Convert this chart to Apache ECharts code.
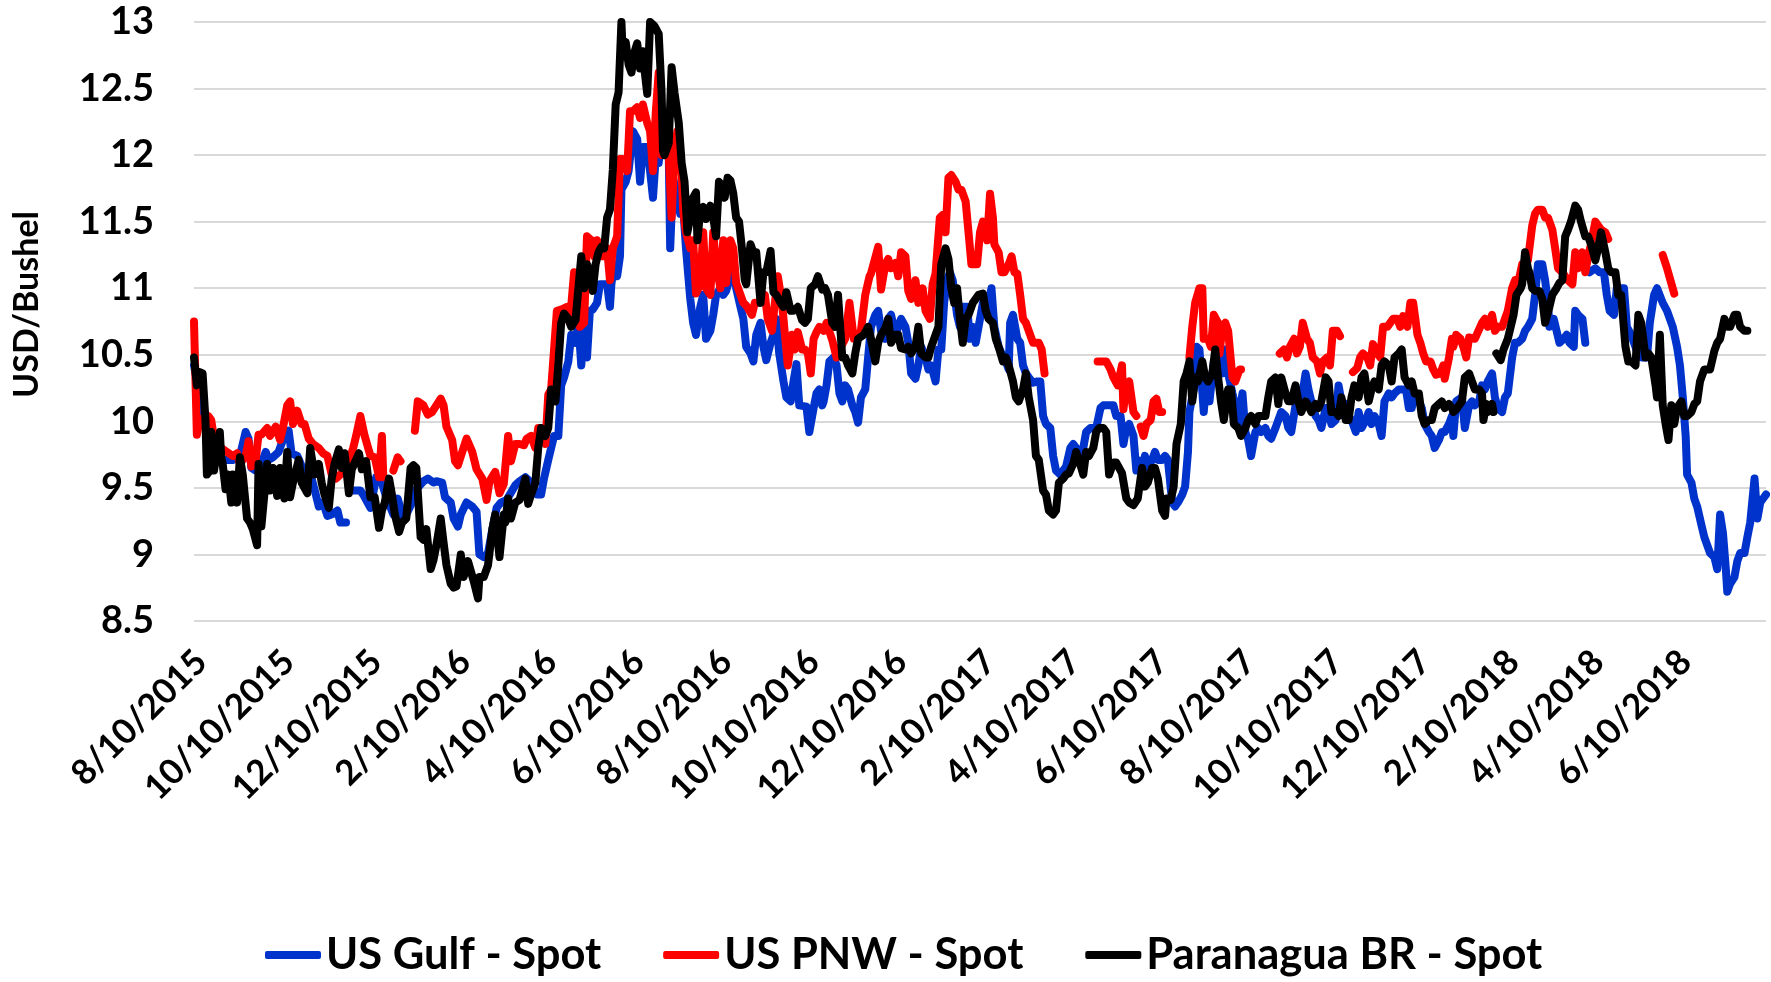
<!DOCTYPE html>
<html>
<head>
<meta charset="utf-8">
<script src="https://cdn.jsdelivr.net/npm/echarts@6.0.0/dist/echarts.min.js"></script>
<style>
  html, body { margin: 0; padding: 0; background: #fff; }
  #chart { width: 1771px; height: 982px; }
</style>
</head>
<body>
<div id="chart"></div>
<script>
// Axis range: every calendar day from 8/10/2015 to 8/10/2018
const startDay = Date.UTC(2015, 7, 10);
const endDay = Date.UTC(2018, 7, 10);

// Tick labels shown on the x axis
const tickLabels = ['8/10/2015', '10/10/2015', '12/10/2015', '2/10/2016', '4/10/2016', '6/10/2016',
  '8/10/2016', '10/10/2016', '12/10/2016', '2/10/2017', '4/10/2017', '6/10/2017',
  '8/10/2017', '10/10/2017', '12/10/2017', '2/10/2018', '4/10/2018', '6/10/2018'];

const seriesNames = ['US Gulf - Spot', 'US PNW - Spot', 'Paranagua BR - Spot'];

// Values as [day offset from 8/10/2015, USD/bushel]; '-' marks a gap in the series
const usGulf = [
[0,10.42],[8,9.98],[11,9.83],[16,9.71],[20,9.71],[27,9.71],[32,9.74],[36,9.92],[38,9.87],[40,9.65],[43,9.63],[46,9.65],[50,9.77],[52,9.71],[55,9.73],[59,9.77],[62,9.86],[66,9.93],[68,9.76],[72,9.74],[76,9.64],[81,9.61],[84,9.49],[87,9.36],[90,9.39],[93,9.29],[96,9.30],[100,9.33],[102,9.24],[106,9.24],[108,'-'],
[111,9.48],[116,9.48],[118,9.45],[123,9.35],[127,9.58],[131,9.54],[134,9.43],[139,9.30],[142,9.42],[146,9.27],[148,9.30],[152,9.39],[155,9.49],[160,9.55],[163,9.57],[167,9.54],[169,9.55],[173,9.54],[175,9.43],[179,9.39],[181,9.27],[184,9.21],[186,9.30],[190,9.39],[194,9.36],[197,9.32],[199,9.00],[202,8.98],[205,9.01],[208,9.19],[211,9.35],[214,9.39],[218,9.41],
[224,9.52],[227,9.55],[231,9.58],[234,9.55],[239,9.45],[242,9.45],[244,9.57],[247,9.71],[251,9.89],[254,9.89],[256,10.27],[258,10.33],[261,10.45],[263,10.65],[266,10.59],[268,10.74],[270,10.42],[272,10.68],[274,10.48],[276,10.83],[278,10.84],[281,10.89],[283,11.03],[288,11.03],[290,10.86],[291,11.03],[293,11.18],[295,11.09],[297,11.24],[298,11.74],[301,11.80],[303,11.88],[306,12.18],[309,12.12],[311,11.80],[313,12.06],[316,12.06],[318,11.88],[320,11.68],[322,12.00],[324,11.94],[326,12.21],[328,12.30],[331,12.00],[332,11.30],[334,11.83],[337,11.68],[339,11.56],[341,11.62],[343,11.30],[346,10.92],[348,10.74],[350,10.65],[353,10.86],[355,10.95],[357,10.62],[360,10.68],[362,10.80],[364,10.95],[367,11.00],[369,10.95],[371,10.98],[374,11.09],[376,11.18],[378,11.00],[381,10.86],[383,10.77],[385,10.56],[388,10.51],[390,10.45],[392,10.65],[395,10.74],[397,10.56],[399,10.46],[402,10.59],[404,10.65],[406,10.77],[408,10.51],[411,10.30],[413,10.18],[416,10.15],[418,10.30],[420,10.43],[422,10.12],[427,10.11],[429,9.92],[432,10.10],[434,10.21],[436,10.24],[438,10.12],
[439,10.15],[441,10.27],[443,10.45],[446,10.48],[448,10.42],[450,10.21],[452,10.15],[454,10.27],[456,10.24],[459,10.12],[461,10.07],[463,9.99],[465,10.18],[468,10.24],[470,10.48],[472,10.71],[475,10.80],[477,10.83],[479,10.68],[482,10.62],[484,10.77],[486,10.80],[489,10.65],[491,10.71],[493,10.77],[496,10.71],[498,10.59],[500,10.36],[503,10.32],[505,10.42],[507,10.56],[510,10.48],[512,10.39],[514,10.42],[517,10.30],[519,10.54],[521,10.54],[523,10.89],[525,11.06],[527,11.12],[529,11.06],[532,10.80],[534,10.71],[536,10.86],[539,10.86],[541,10.62],[543,10.71],[545,10.59],[548,10.77],[550,10.89],[553,10.89],[555,10.95],[556,11.00],[558,10.71],[561,10.56],[563,10.51],[565,10.48],[568,10.39],[569,10.74],[571,10.80],[574,10.62],[576,10.59],[578,10.42],[580,10.36],[582,10.33],[585,10.29],[588,10.30],[590,10.30],[592,10.04],[594,9.98],[597,9.95],[599,9.74],[601,9.63],[604,9.60],[606,9.63],[608,9.66],[611,9.80],[613,9.83],[615,9.80],[618,9.77],[620,9.80],[622,9.92],[625,9.95],[629,9.95],[632,10.10],[634,10.12],[641,10.12],[643,10.04],[646,10.04],[648,9.83],[650,9.95],[652,9.98],[655,9.89],[657,9.63],
[658,9.71],[661,9.65],[663,9.74],[665,9.65],[668,9.71],[670,9.77],[672,9.71],[675,9.71],[677,9.74],[679,9.71],[682,9.39],[684,9.36],[686,9.39],[689,9.45],[691,9.51],[693,9.77],[694,10.07],[697,10.24],[699,10.56],[701,10.54],[704,10.07],[706,10.33],[708,10.15],[711,10.45],[713,10.45],[715,10.48],[717,10.36],[719,10.54],[721,10.36],[724,10.21],[726,10.12],[728,9.98],[731,10.21],[733,9.92],[735,9.86],[737,9.74],[740,9.92],[742,9.95],[744,9.92],[747,9.95],[749,9.89],[751,9.87],[754,9.95],[756,10.01],[758,10.07],[761,10.04],[763,9.95],[765,9.92],[768,10.12],[770,10.15],[772,10.15],[775,10.36],[777,10.24],[779,10.15],[782,10.04],[784,10.01],[786,9.95],[789,10.10],[791,10.07],[793,9.98],[796,10.01],[798,10.27],[800,10.15],[803,10.13],[805,10.04],[807,10.01],[810,9.92],[812,10.07],[814,9.95],[817,10.01],[819,10.07],[821,9.98],[823,10.04],[826,9.98],[828,9.89],[830,10.15],[833,10.21],[835,10.18],[837,10.21],[840,10.24],[845,10.24],[847,10.10],[849,10.10],[851,10.21],[854,10.15],[856,10.10],[858,9.98],[861,9.92],[863,9.89],[865,9.80],[868,9.86],[870,9.92],[872,9.92],[875,9.98],[877,10.04],
[878,9.89],[880,10.15],[884,10.18],[886,9.95],[889,10.12],[891,10.15],[893,10.12],[896,10.15],[898,10.27],[900,10.24],[902,10.30],[905,10.36],[907,10.18],[909,10.10],[912,10.07],[914,10.18],[916,10.21],[919,10.48],[921,10.59],[923,10.59],[926,10.62],[928,10.68],[930,10.71],[933,10.77],[935,10.95],[937,11.18],[940,11.18],[942,11.06],[944,10.89],[945,10.71],[948,10.77],[950,10.68],[952,10.59],[955,10.62],[957,10.65],[959,10.59],[962,10.56],[963,10.83],[965,10.80],[968,10.77],[970,10.59],[971,'-'],
[973,11.12],[977,11.15],[980,11.12],[983,11.12],[985,10.95],[987,10.83],[990,10.80],[992,11.00],[997,11.00],[999,10.71],[1002,10.65],[1004,10.59],[1006,10.53],[1009,10.48],[1013,10.48],[1015,10.74],[1018,10.95],[1020,11.00],[1024,10.89],[1027,10.83],[1029,10.77],[1031,10.71],[1034,10.56],[1036,10.42],[1038,10.18],[1040,9.89],[1041,9.60],[1044,9.54],[1046,9.42],[1048,9.36],[1051,9.22],[1053,9.13],[1055,9.07],[1057,9.01],[1060,8.98],[1062,8.89],[1064,9.30],[1066,9.16],[1068,8.89],[1069,8.72],[1071,8.78],[1074,8.83],[1076,8.95],[1078,9.01],[1081,9.01],[1083,9.13],[1085,9.24],[1088,9.57],[1090,9.27],[1092,9.39],[1094,9.42],[1096,9.45]
];

const usPNW = [
[0,10.75],[2,9.90],[4,10.01],[10,10.04],[12,10.01],[15,9.80],[19,9.80],[23,9.77],[27,9.74],[30,9.76],[32,9.68],[36,9.74],[38,9.85],[40,9.66],[43,9.71],[45,9.90],[47,9.90],[51,9.95],[53,9.89],[57,9.96],[60,9.86],[62,9.95],[65,10.12],[67,10.15],[69,9.98],[72,10.08],[75,9.98],[77,9.98],[80,9.87],[83,9.83],[87,9.80],[90,9.76],[93,9.74],[96,9.60],[99,9.57],[103,9.61],[106,9.64],[111,9.80],[113,9.89],[116,10.04],[119,9.89],[123,9.74],[126,9.73],[129,9.58],[131,9.89],[132,9.58],[135,'-'],
[139,9.63],[142,9.73],[144,9.70],[149,'-'],
[154,9.93],[156,10.15],[160,10.12],[163,10.05],[166,10.07],[169,10.12],[172,10.17],[174,10.12],[176,9.96],[180,9.86],[182,9.70],[184,9.67],[187,9.77],[190,9.87],[194,9.77],[197,9.64],[201,9.57],[204,9.41],[206,9.55],[210,9.62],[213,9.46],[216,9.53],[217,9.54],[219,9.89],
[221,9.70],[224,9.83],[227,9.83],[230,9.82],[232,9.87],[235,9.89],[238,9.80],[240,9.95],[242,9.95],[245,9.83],[247,10.20],[249,10.24],[253,10.83],[256,10.84],[260,10.86],[262,10.74],[265,11.12],[267,10.95],[269,10.71],[272,10.74],[274,11.39],[277,11.36],[279,11.24],[281,11.36],[283,11.33],[285,11.24],[288,11.30],[290,11.06],[292,11.30],[295,11.39],[297,11.97],[299,11.97],[302,11.88],[304,12.33],[306,12.33],[309,12.36],[311,12.28],[313,12.38],[316,12.24],[318,12.18],[320,11.88],[322,12.33],[324,12.62],[326,12.00],[328,12.18],[331,12.00],[333,11.53],[335,12.00],[337,12.18],[340,11.88],[341,11.59],[343,11.42],[346,11.30],[348,11.36],[350,10.96],[353,11.03],[355,11.42],[357,11.00],[360,10.95],[362,11.42],[364,11.18],[367,11.00],[369,11.36],[371,11.04],[374,11.36],[376,11.30],[378,11.04],[381,10.95],[383,10.89],[385,10.87],[389,10.80],[391,10.89],[393,10.89],[396,10.92],[398,10.95],[400,10.77],[403,10.68],[405,10.89],[407,11.09],[410,10.89],[412,10.65],[414,10.42],[417,10.65],[419,10.54],[421,10.67],[424,10.54],[426,10.54],[428,10.51],[430,10.36],[432,10.62],[434,10.67],[436,10.71],
[439,10.68],[441,10.74],[445,10.61],[448,10.48],[451,10.56],[454,10.62],[457,10.89],[460,10.62],[462,10.62],[465,10.68],[468,10.95],[471,11.09],[472,11.11],[477,11.31],[479,10.99],[482,11.18],[484,11.22],[486,11.15],[489,11.19],[491,11.09],[493,11.27],[496,11.24],[498,10.98],[500,10.92],[503,11.06],[505,10.89],[508,11.00],[510,10.83],[513,10.77],[515,11.03],[517,11.11],[520,11.53],[522,11.55],[524,11.42],[526,11.83],[528,11.85],[531,11.80],[533,11.74],[535,11.74],[538,11.65],[540,11.42],[542,11.18],[546,11.18],[548,11.42],[550,11.50],[553,11.36],[555,11.71],[557,11.53],[558,11.33],[561,11.27],[563,11.12],[565,11.12],[568,11.18],[570,11.24],[572,11.12],[574,11.11],[576,10.95],[578,10.77],[580,10.74],[583,10.65],[585,10.59],[589,10.59],[591,10.54],[593,10.36],[594,'-'],
[630,10.45],[633,10.45],[636,10.45],[639,10.39],[641,10.33],[644,10.27],[647,10.42],[648,10.09],[650,10.27],[652,10.30],[655,10.07],[657,10.04],[658,'-'],
[660,9.96],[662,9.89],[664,9.98],[667,10.01],[669,10.15],[671,10.17],[673,10.07],[675,10.07],[676,'-'],
[694,10.48],[696,10.71],[698,10.89],[701,11.00],[703,11.00],[704,10.62],[707,10.62],[709,10.56],[711,10.80],[714,10.74],[715,10.51],[717,10.71],[719,10.74],[721,10.68],[724,10.33],[726,10.30],[729,10.39],[730,10.39],[731,'-'],
[757,10.51],[760,10.54],[762,10.48],[764,10.56],[767,10.62],[769,10.51],[771,10.56],[773,10.74],[776,10.62],[778,10.59],[780,10.48],[783,10.45],[785,10.36],[787,10.45],[790,10.48],[792,10.42],[794,10.68],[797,10.68],[799,10.64],[800,'-'],
[808,10.37],[811,10.40],[813,10.48],[815,10.51],[818,10.48],[820,10.42],[822,10.58],[825,10.51],[827,10.48],[829,10.71],[832,10.71],[834,10.74],[836,10.77],[839,10.77],[841,10.71],[843,10.79],[846,10.71],[848,10.89],[850,10.89],[853,10.65],[855,10.59],[857,10.51],[859,10.45],[862,10.45],[864,10.39],[866,10.35],[869,10.36],[871,10.42],[872,10.32],[875,10.48],[877,10.62],[878,10.56],[880,10.65],[883,10.62],[885,10.56],[887,10.48],[889,10.63],[893,10.62],[898,10.74],[900,10.77],[902,10.71],[905,10.80],[907,10.68],[909,10.71],[912,10.71],[914,10.77],[916,10.83],[919,11.00],[921,11.06],[923,11.03],[926,11.18],[928,11.15],[930,11.21],[933,11.47],[935,11.56],[937,11.59],[940,11.59],[942,11.53],[944,11.53],[947,11.44],[949,11.30],[951,11.15],[954,11.12],[956,11.09],[958,11.06],[961,11.03],[963,11.27],[965,11.15],[968,11.27],[970,11.12],[972,11.24],[974,11.33],[977,11.50],[979,11.47],[981,11.44],[984,11.42],[986,11.37],[987,'-'],
[1024,11.25],[1027,11.15],[1032,10.96]
];

const paranagua = [
[0,10.48],[2,10.27],[4,10.37],[6,10.36],[8,10.01],[9,9.60],[11,9.63],[12,9.92],[14,9.63],[15,9.71],[18,9.92],[19,9.73],[20,9.68],[22,9.49],[24,9.60],[26,9.39],[27,9.60],[30,9.39],[32,9.73],[34,9.60],[37,9.27],[39,9.24],[41,9.19],[44,9.07],[45,9.68],[47,9.21],[51,9.68],[53,9.48],[55,9.65],[58,9.44],[60,9.65],[63,9.42],[65,9.77],[67,9.43],[69,9.54],[73,9.71],[75,9.54],[79,9.46],[81,9.80],[84,9.60],[87,9.68],[89,9.54],[91,9.45],[94,9.35],[96,9.57],[98,9.68],[101,9.79],[103,9.65],[105,9.76],[108,9.46],[110,9.64],[115,9.76],[117,9.64],[120,9.70],[123,9.43],[126,9.43],[129,9.20],[131,9.33],[133,9.39],[136,9.57],[138,9.45],[140,9.30],[143,9.17],[145,9.24],[148,9.27],[151,9.65],[153,9.67],[155,9.65],[158,9.13],[160,9.11],[162,9.19],[165,8.89],[167,8.96],[169,9.07],[172,9.27],[174,9.09],[176,8.92],[179,8.78],[181,8.75],[183,8.76],[186,9.00],[188,8.83],[191,8.95],[195,8.80],[198,8.67],[199,8.83],[202,8.83],[205,8.92],[208,9.19],[210,9.30],[213,8.98],[216,9.30],
[217,9.24],[219,9.42],[221,9.27],[224,9.39],[227,9.41],[231,9.57],[233,9.38],[235,9.45],[238,9.54],[240,9.80],[242,9.95],[245,9.89],[247,9.95],[249,10.24],[252,10.15],[254,10.42],[256,10.74],[258,10.81],[261,10.77],[263,10.71],[266,10.76],[268,11.00],[270,11.24],[272,11.00],[274,11.18],[276,11.12],[278,10.98],[280,11.18],[282,11.27],[284,11.31],[286,11.30],[288,11.53],[290,11.59],[292,11.89],[294,12.38],[296,12.47],[298,13.00],[299,12.74],[301,12.85],[303,12.68],[305,12.62],[307,12.77],[309,12.84],[311,12.65],[313,12.78],[314,12.65],[316,12.46],[318,13.00],[319,13.01],[321,12.97],[324,12.91],[326,12.47],[327,12.03],[328,12.00],[331,12.09],[333,12.66],[335,12.47],[338,12.24],[340,11.94],[342,11.80],[344,11.42],[346,11.53],[348,11.68],[350,11.72],[351,11.36],[353,11.59],[355,11.61],[357,11.52],[360,11.62],[362,11.53],[364,11.39],[366,11.80],[368,11.77],[370,11.68],[372,11.83],[374,11.81],[376,11.71],[378,11.53],[380,11.50],[382,11.30],[384,11.06],[385,11.03],[388,11.33],[390,11.27],[392,11.27],[395,10.89],[397,11.12],[399,11.12],[402,11.28],[404,10.97],[406,10.95],[409,10.89],[411,10.86],[413,10.97],[416,10.83],[418,10.83],[421,10.86],[424,10.76],[426,10.74],[428,10.77],[430,11.00],[433,11.03],[435,11.09],[438,10.99],
[440,11.00],[442,10.95],[445,10.74],[447,10.71],[449,10.95],[452,10.48],[454,10.48],[456,10.42],[459,10.36],[461,10.51],[463,10.62],[467,10.65],[470,10.71],[472,10.62],[475,10.45],[477,10.59],[479,10.65],[482,10.70],[484,10.77],[486,10.59],[489,10.65],[491,10.65],[493,10.55],[496,10.54],[498,10.56],[500,10.51],[503,10.56],[505,10.71],[507,10.51],[510,10.48],[512,10.48],[514,10.56],[517,10.65],[519,10.71],[521,11.18],[524,11.30],[526,11.22],[528,11.00],[530,10.89],[532,11.00],[534,10.77],[536,10.59],[538,10.77],[540,10.80],[543,10.89],[545,10.92],[547,10.95],[550,10.96],[552,10.83],[554,10.77],[557,10.74],[559,10.62],[561,10.56],[564,10.45],[566,10.48],[568,10.42],[571,10.30],[573,10.18],[575,10.15],[578,10.24],[580,10.36],[582,10.18],[585,10.01],[587,9.74],[589,9.71],[592,9.48],[594,9.45],[596,9.33],[599,9.30],[601,9.33],[603,9.54],[606,9.57],[608,9.60],[610,9.61],[613,9.68],[615,9.77],[617,9.71],[620,9.60],[622,9.77],[624,9.74],[627,9.80],[629,9.92],[631,9.95],[634,9.95],[636,9.92],[638,9.60],[641,9.69],[643,9.69],[645,9.65],[647,9.61],[650,9.42],[652,9.39],[655,9.37],
[658,9.42],[661,9.65],[663,9.51],[665,9.54],[668,9.65],[670,9.65],[672,9.57],[675,9.33],[677,9.29],[678,9.42],[681,9.41],[683,9.51],[685,9.83],[686,9.83],[688,9.98],[690,10.30],[692,10.36],[694,10.45],[696,10.15],[698,10.33],[700,10.30],[703,10.45],[705,10.33],[707,10.30],[710,10.36],[712,10.54],[714,10.33],[716,10.15],[718,10.01],[721,10.24],[723,10.24],[725,9.98],[728,9.95],[730,9.89],[733,9.95],[735,10.01],[737,10.04],[740,9.98],[742,10.04],[747,10.04],[749,10.18],[751,10.30],[754,10.33],[756,10.13],[758,10.33],[761,10.21],[763,10.15],[765,10.15],[768,10.27],[770,10.15],[772,10.07],[775,10.15],[777,10.12],[779,10.07],[782,10.13],[784,10.10],[786,10.15],[789,10.33],[791,10.30],[793,10.07],[796,10.07],[798,10.04],[800,10.18],[803,10.01],[805,10.01],[807,10.18],[809,10.27],[812,10.18],[814,10.33],[816,10.36],[819,10.15],[821,10.24],[823,10.30],[826,10.24],[828,10.42],[830,10.45],[833,10.42],[835,10.30],[837,10.48],[840,10.51],[842,10.54],[844,10.33],[847,10.27],[849,10.30],[851,10.21],[854,10.21],[856,10.04],[858,9.98],[861,10.01],[863,10.01],[865,10.10],[868,10.13],[870,10.15],[872,10.10],[875,10.13],[877,10.10],
[878,10.07],[880,10.09],[884,10.15],[886,10.33],[889,10.36],[891,10.30],[893,10.24],[896,10.24],[898,10.21],[899,10.01],[901,10.13],[902,10.07],[905,10.13],[906,10.07],[907,'-'],
[908,10.51],[911,10.46],[913,10.54],[916,10.62],[918,10.71],[920,10.80],[922,10.95],[925,11.00],[926,11.03],[928,11.27],[930,11.15],[931,11.12],[933,11.00],[935,10.98],[938,10.98],[940,10.92],[942,10.74],[945,10.86],[947,10.95],[950,11.00],[952,11.04],[954,11.06],[956,11.39],[958,11.44],[960,11.50],[963,11.62],[965,11.59],[967,11.50],[970,11.39],[972,11.39],[974,11.33],[977,11.21],[979,11.30],[981,11.42],[984,11.27],[986,11.15],[988,11.12],[991,11.12],[993,10.95],[995,10.95],[998,10.56],[1000,10.45],[1002,10.45],[1005,10.42],[1007,10.80],[1009,10.74],[1012,10.48],[1014,10.51],[1016,10.48],[1019,10.27],[1020,10.18],[1022,10.65],[1024,10.12],[1026,9.98],[1028,9.86],[1030,10.12],[1032,9.98],[1034,10.10],[1037,10.15],[1039,10.04],[1041,10.04],[1044,10.07],[1046,10.13],[1048,10.15],[1050,10.30],[1053,10.39],[1057,10.39],[1060,10.53],[1062,10.59],[1064,10.62],[1067,10.77],[1069,10.71],[1071,10.71],[1074,10.80],[1076,10.80],[1078,10.71],[1081,10.68],[1083,10.68]
];

const seriesColors = ['#0033CC', '#FF0000', '#000000'];

// Build daily category list
const categories = [];
for (let t = startDay; t <= endDay; t += 86400000) {
  const d = new Date(t);
  categories.push((d.getUTCMonth() + 1) + '/' + d.getUTCDate() + '/' + d.getUTCFullYear());
}
const tickSet = new Set(tickLabels);

const FONT = 'Lato';
const chart = echarts.init(document.getElementById('chart'), null, { renderer: 'canvas' });

const lineSeries = [usGulf, usPNW, paranagua].map((data, i) => ({
  name: seriesNames[i],
  type: 'line',
  data: data,
  showSymbol: false,
  symbol: 'none',
  connectNulls: false,
  color: seriesColors[i],
  lineStyle: { width: 8, color: seriesColors[i], cap: 'round', join: 'round' },
  emphasis: { disabled: true },
  z: 2 + i
}));

chart.setOption({
  animation: false,
  backgroundColor: '#ffffff',
  textStyle: { fontFamily: FONT },
  grid: { left: 194, right: 5, top: 22, bottom: 361, containLabel: false, outerBoundsMode: 'none' },
  xAxis: {
    type: 'category',
    data: categories,
    boundaryGap: false,
    axisLine: { show: false },
    axisTick: { show: false },
    splitLine: { show: false },
    axisLabel: {
      interval: function (index, value) { return tickSet.has(value); },
      rotate: 45,
      margin: 28,
      verticalAlign: 'top',
      lineHeight: 20,
      fontSize: 35,
      fontWeight: 'bold',
      fontFamily: FONT,
      color: '#000000'
    }
  },
  yAxis: {
    type: 'value',
    min: 8.5,
    max: 13,
    interval: 0.5,
    axisLine: { show: false },
    axisTick: { show: false },
    splitLine: { show: true, lineStyle: { color: '#D9D9D9', width: 2 } },
    axisLabel: { fontSize: 38, fontWeight: 'bold', fontFamily: FONT, color: '#000000', margin: 40 },
    name: 'USD/Bushel',
    nameLocation: 'middle',
    nameRotate: 90,
    nameGap: 150,
    nameTextStyle: { fontSize: 34, fontWeight: 'bold', fontFamily: FONT, color: '#000000', padding: [0, 0, 0, 34] }
  },
  legend: {
    data: seriesNames,
    left: 265,
    top: 933,
    padding: 0,
    itemGap: 62,
    itemWidth: 56,
    itemHeight: 8,
    icon: 'roundRect',
    selectedMode: false,
    textStyle: { fontSize: 43.5, fontWeight: 'bold', fontFamily: FONT, color: '#000000' }
  },
  series: lineSeries
});
</script>
</body>
</html>
